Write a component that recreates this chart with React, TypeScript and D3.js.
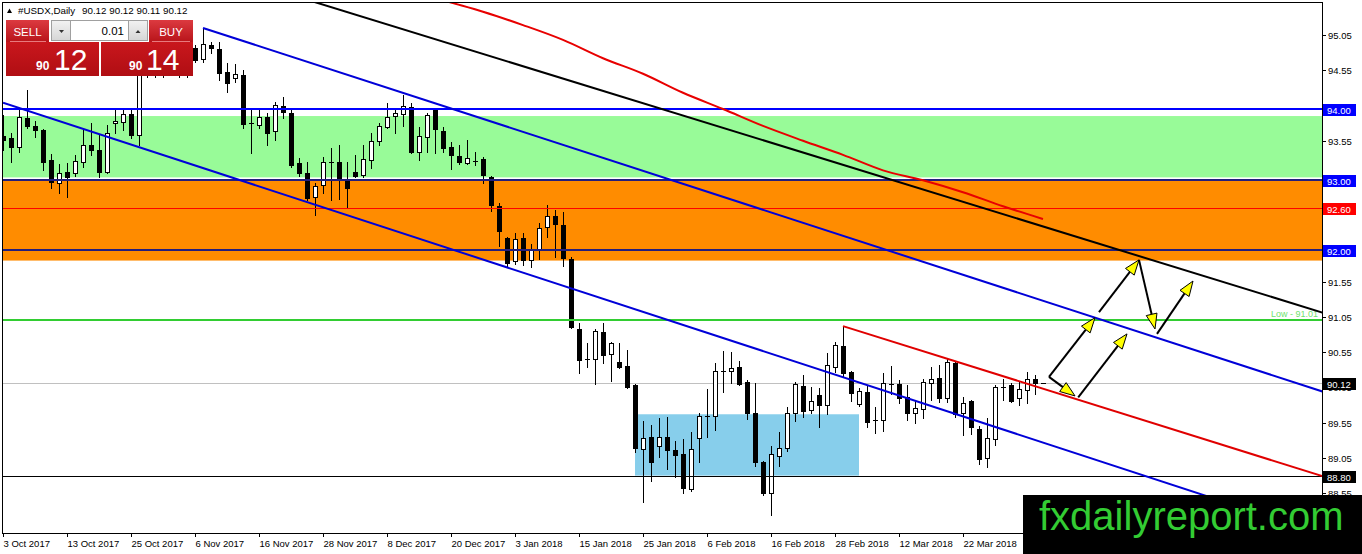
import { useEffect, useRef } from 'react';
import * as d3 from 'd3';

// time axis: one label every 8 daily bars, starting at bar 0
const dateLabels = [
  '3 Oct 2017', '13 Oct 2017', '25 Oct 2017', '6 Nov 2017', '16 Nov 2017', '28 Nov 2017',
  '8 Dec 2017', '20 Dec 2017', '3 Jan 2018', '15 Jan 2018', '25 Jan 2018', '6 Feb 2018',
  '16 Feb 2018', '28 Feb 2018', '12 Mar 2018', '22 Mar 2018',
];

// daily OHLC, bar 0 = 3 Oct 2017
const opens = [
  93.62, 93.59, 93.46, 93.87, 93.76, 93.7, 93.28, 92.95, 93.11, 93.09, 93.25, 93.49, 93.42, 93.11, 93.8, 93.82,
  93.93, 93.63, 94.55, 94.67, 94.58, 94.72, 94.62, 94.77, 94.87, 94.71, 94.91, 94.85, 94.52, 94.44, 94.48, 93.8,
  93.77, 93.89, 93.69, 94.04, 93.94, 93.23, 93.09, 92.75, 92.92, 93.25, 93.25, 93.01, 93.11, 93.06, 93.28, 93.55,
  93.74, 93.9, 93.93, 94.03, 93.39, 93.6, 94.0, 93.69, 93.46, 93.33, 93.23, 93.26, 93.29, 93.04, 92.62, 92.17,
  91.84, 92.17, 91.86, 92.01, 92.33, 92.48, 92.35, 91.87, 90.88, 90.45, 90.45, 90.84, 90.53, 90.41, 90.35, 90.08,
  89.18, 89.35, 89.22, 89.35, 89.16, 89.11, 88.61, 89.33, 89.65, 89.65, 90.28, 90.28, 90.34, 90.13, 89.69, 88.99,
  88.55, 89.08, 89.19, 89.69, 90.07, 89.73, 89.94, 89.8, 90.34, 90.64, 90.27, 89.82, 89.99, 89.59, 89.59, 90.1,
  90.1, 89.92, 89.69, 89.74, 90.11, 90.18, 89.9, 90.4, 89.69, 89.86, 89.46, 89.05, 89.32, 90.06, 90.08, 89.9,
  90.01, 90.17, 90.12,
];
const highs = [
  93.91, 93.66, 93.99, 94.27, 93.83, 93.72, 93.36, 93.22, 93.23, 93.35, 93.7, 93.8, 93.65, 93.77, 94.0, 94.0,
  93.99, 94.84, 94.77, 94.81, 94.84, 94.87, 94.91, 94.95, 94.91, 95.15, 94.95, 94.95, 94.65, 94.64, 94.55, 93.99,
  93.99, 93.94, 94.1, 94.17, 93.99, 93.31, 93.25, 92.95, 93.32, 93.45, 93.49, 93.25, 93.35, 93.49, 93.66, 93.8,
  94.09, 94.01, 94.2, 94.09, 93.74, 93.94, 94.01, 93.74, 93.53, 93.49, 93.56, 93.39, 93.32, 93.05, 92.67, 92.19,
  92.24, 92.24, 92.09, 92.38, 92.64, 92.57, 92.54, 91.9, 90.96, 90.68, 90.88, 90.96, 90.7, 90.68, 90.58, 90.1,
  89.57, 89.52, 89.62, 89.63, 89.29, 89.32, 89.42, 89.69, 90.03, 90.4, 90.57, 90.55, 90.43, 90.16, 90.11, 89.01,
  89.22, 89.42, 89.77, 90.13, 90.23, 90.06, 90.04, 90.54, 90.7, 90.92, 90.28, 90.04, 90.08, 89.77, 90.26, 90.35,
  90.16, 90.08, 89.87, 90.17, 90.34, 90.37, 90.45, 90.41, 89.92, 89.87, 89.5, 89.62, 90.08, 90.17, 90.11, 90.13,
  90.27, 90.23, 90.12,
];
const lows = [
  93.42, 93.25, 93.39, 93.73, 93.6, 93.13, 92.88, 92.81, 92.75, 93.05, 93.18, 93.35, 93.04, 93.09, 93.66, 93.7,
  93.59, 93.49, 94.46, 94.45, 94.46, 94.5, 94.45, 94.46, 94.67, 94.67, 94.79, 94.41, 94.24, 94.38, 93.73, 93.38,
  93.73, 93.49, 93.56, 93.87, 93.18, 93.05, 92.71, 92.5, 92.81, 92.71, 92.72, 92.6, 93.04, 93.04, 93.16, 93.49,
  93.73, 93.66, 93.76, 93.38, 93.28, 93.39, 93.38, 93.39, 93.15, 93.22, 93.22, 93.21, 92.95, 92.55, 92.06, 91.77,
  91.8, 91.79, 91.76, 91.87, 92.19, 91.9, 91.77, 90.89, 90.26, 90.34, 90.1, 90.4, 90.14, 90.33, 90.04, 89.13,
  88.43, 88.72, 89.06, 88.89, 88.78, 88.55, 88.58, 88.99, 89.35, 89.45, 89.99, 90.11, 90.08, 89.6, 88.94, 88.53,
  88.24, 88.94, 89.15, 89.57, 89.63, 89.69, 89.49, 89.67, 90.27, 90.2, 89.86, 89.79, 89.49, 89.4, 89.43, 89.96,
  89.83, 89.59, 89.55, 89.62, 89.87, 89.84, 89.84, 89.63, 89.38, 89.39, 88.96, 88.92, 89.23, 89.87, 89.84, 89.8,
  89.83, 89.96, 90.11,
];
const closes = [
  93.56, 93.46, 93.89, 93.76, 93.7, 93.25, 92.96, 93.09, 93.04, 93.26, 93.49, 93.42, 93.11, 93.66, 93.83, 93.93,
  93.63, 94.55, 94.67, 94.58, 94.72, 94.62, 94.77, 94.87, 94.69, 94.92, 94.87, 94.51, 94.37, 94.5, 93.79, 93.8,
  93.89, 93.66, 94.06, 93.96, 93.21, 93.09, 92.74, 92.91, 93.25, 93.25, 93.01, 92.88, 93.05, 93.29, 93.55, 93.76,
  93.89, 93.94, 94.04, 93.39, 93.62, 93.91, 93.72, 93.45, 93.35, 93.25, 93.31, 93.26, 93.06, 92.64, 92.27, 91.82,
  92.16, 91.86, 92.0, 92.31, 92.48, 92.37, 91.89, 90.91, 90.44, 90.44, 90.85, 90.51, 90.68, 90.34, 90.06, 89.19,
  89.33, 88.99, 89.35, 89.16, 89.09, 88.62, 89.18, 89.65, 89.65, 90.28, 90.28, 90.33, 90.1, 89.69, 88.99, 88.55,
  89.11, 89.19, 89.69, 90.1, 89.72, 89.86, 89.8, 90.37, 90.65, 90.26, 89.97, 90.0, 89.56, 89.59, 90.11, 90.1,
  89.9, 89.69, 89.76, 90.13, 90.17, 89.9, 90.41, 89.67, 89.83, 89.49, 89.04, 89.33, 90.06, 90.06, 89.86, 90.03,
  90.17, 90.11, 90.12,
];

// moving average (red curve)
const maBars = [52, 56, 60, 65, 70, 75, 80, 85, 90, 95, 100, 105, 110, 115, 120, 125, 130];
const maValues = [
  95.64, 95.51, 95.38, 95.19, 94.98, 94.72, 94.5, 94.23, 94.0, 93.76, 93.55, 93.35, 93.13, 92.99, 92.82, 92.62, 92.44,
];

// trend lines as [bar, price] pairs
const upperChannel = [[25, 95.15], [165, 89.99]];
const lowerChannel = [[0, 94.09], [165, 87.97]];
const blackTrend = [[30, 95.83], [165, 91.11]];
const redChannel = [[105, 90.92], [165, 88.79]];

// zones
const greenZone = [93.9, 93.03];
const orangeZone = [92.98, 91.85];
const blueBoxBars = [79, 107];
const blueBoxPrices = [89.67, 88.8];

// horizontal levels
const levelPrices = [94.0, 93.0, 92.6, 92.0, 90.12, 88.8];
const lowLevel = 91.01;

const priceTicks = [95.05, 94.55, 94.05, 93.55, 93.05, 92.55, 92.05, 91.55, 91.05, 90.55, 90.05, 89.55, 89.05, 88.55];

// projection arrows [bar, price]
const arrowStarts = [[130.75, 90.2], [130.75, 90.2], [137, 91.12], [142, 91.86], [144.25, 90.81], [134.4, 89.91]];
const arrowEnds = [[134, 89.93], [136.5, 91.04], [142, 91.86], [144, 90.88], [148.75, 91.56], [140.5, 90.81]];

const W = 1362;
const H = 554;

export default function App() {
  const svgRef = useRef<SVGSVGElement>(null);

  useEffect(() => {
    if (!svgRef.current) return;
    const font = "'Liberation Sans', Arial, sans-serif";
    const left = 2;
    const right = 1322;
    const top = 2;
    const bottom = 533;

    const svg = d3.select(svgRef.current);
    svg.selectAll('*').remove();
    svg.append('rect').attr('width', W).attr('height', H).attr('fill', '#fff');

    const x = d3.scaleLinear().domain([0, 130]).range([3, 1043]);
    const y = d3.scaleLinear().domain([88, 95.5]).range([532, 3.25]);
    const crisp = (v: number) => Math.round(v) + 0.5;

    const defs = svg.append('defs');
    defs
      .append('clipPath')
      .attr('id', 'plotClip')
      .append('rect')
      .attr('x', left + 1)
      .attr('y', top + 1)
      .attr('width', right - left - 1)
      .attr('height', bottom - top - 1);

    const grad = (id: string, c1: string, c2: string) => {
      const lg = defs.append('linearGradient').attr('id', id).attr('x1', 0).attr('y1', 0).attr('x2', 0).attr('y2', 1);
      lg.append('stop').attr('offset', '0%').attr('stop-color', c1);
      lg.append('stop').attr('offset', '100%').attr('stop-color', c2);
    };
    grad('btnRed', '#dc3a40', '#b8141a');
    grad('priceRed', '#c9171d', '#b00e13');
    grad('grayBtn', '#f2f2f2', '#d6d6d6');

    const g = svg.append('g').attr('clip-path', 'url(#plotClip)');

    // background zones
    g.append('rect')
      .attr('x', left)
      .attr('width', right - left)
      .attr('y', y(greenZone[0]))
      .attr('height', y(greenZone[1]) - y(greenZone[0]))
      .attr('fill', '#98fb98');
    g.append('rect')
      .attr('x', left)
      .attr('width', right - left)
      .attr('y', y(orangeZone[0]))
      .attr('height', y(orangeZone[1]) - y(orangeZone[0]))
      .attr('fill', '#ff8c00');
    g.append('rect')
      .attr('x', x(blueBoxBars[0]))
      .attr('width', x(blueBoxBars[1]) - x(blueBoxBars[0]))
      .attr('y', y(blueBoxPrices[0]))
      .attr('height', y(blueBoxPrices[1]) - y(blueBoxPrices[0]))
      .attr('fill', '#87ceeb');

    const hline = (p: number, color: string, w: number) => {
      const yy = w % 2 === 1 ? crisp(y(p)) : Math.round(y(p));
      g.append('line')
        .attr('x1', left)
        .attr('x2', right)
        .attr('y1', yy)
        .attr('y2', yy)
        .attr('stroke', color)
        .attr('stroke-width', w);
    };
    // bid line
    hline(90.12, '#c0c0c0', 1);

    // candles
    opens.forEach((o, i) => {
      const c = closes[i];
      const cx = Math.round(x(i));
      g.append('line')
        .attr('x1', cx + 0.5)
        .attr('x2', cx + 0.5)
        .attr('y1', Math.round(y(highs[i])))
        .attr('y2', Math.round(y(lows[i])) + 1)
        .attr('stroke', '#000')
        .attr('stroke-width', 1);
      const yTop = Math.round(y(Math.max(o, c)));
      const yBot = Math.round(y(Math.min(o, c)));
      if (yBot - yTop < 2) {
        g.append('line')
          .attr('x1', cx - 2)
          .attr('x2', cx + 3)
          .attr('y1', yTop + 0.5)
          .attr('y2', yTop + 0.5)
          .attr('stroke', '#000');
      } else if (c > o) {
        g.append('rect')
          .attr('x', cx - 1.5)
          .attr('y', yTop + 0.5)
          .attr('width', 4)
          .attr('height', yBot - yTop)
          .attr('fill', '#fff')
          .attr('stroke', '#000')
          .attr('stroke-width', 1);
      } else {
        g.append('rect')
          .attr('x', cx - 2)
          .attr('y', yTop)
          .attr('width', 5)
          .attr('height', yBot - yTop + 1)
          .attr('fill', '#000');
      }
    });

    // horizontal levels
    hline(levelPrices[0], '#0000ff', 2);
    hline(levelPrices[1], '#231e7c', 2);
    hline(levelPrices[3], '#231e7c', 2);
    hline(levelPrices[2], '#ff0000', 1);
    hline(levelPrices[5], '#000000', 1);
    hline(lowLevel, '#32cd32', 2);

    g.append('text')
      .attr('x', right - 4)
      .attr('y', y(lowLevel) - 3)
      .attr('text-anchor', 'end')
      .attr('font-family', font)
      .attr('font-size', 9)
      .attr('fill', '#6fe36f')
      .text(`Low - ${lowLevel.toFixed(2)}`);

    // trend lines
    const seg = d3
      .line<number[]>()
      .x((d) => x(d[0]))
      .y((d) => y(d[1]));
    const trend = (pts: number[][], color: string) =>
      g.append('path').attr('d', seg(pts)).attr('fill', 'none').attr('stroke', color).attr('stroke-width', 2);
    trend(upperChannel, '#0000d8');
    trend(lowerChannel, '#0000d8');
    trend(blackTrend, '#000');
    trend(redChannel, '#e00000');

    const maLine = d3
      .line<number>()
      .x((d) => x(d))
      .y((_, i) => y(maValues[i]))
      .curve(d3.curveMonotoneX);
    g.append('path').attr('d', maLine(maBars)).attr('fill', 'none').attr('stroke', '#e80000').attr('stroke-width', 2);

    // arrows
    arrowStarts.forEach((s, i) => {
      const e = arrowEnds[i];
      const x1 = x(s[0]);
      const y1 = y(s[1]);
      const x2 = x(e[0]);
      const y2 = y(e[1]);
      const ang = Math.atan2(y2 - y1, x2 - x1);
      const len = 15;
      const hw = 5.5;
      const bx = x2 - len * Math.cos(ang);
      const by = y2 - len * Math.sin(ang);
      g.append('line')
        .attr('x1', x1)
        .attr('y1', y1)
        .attr('x2', bx)
        .attr('y2', by)
        .attr('stroke', '#000')
        .attr('stroke-width', 2);
      const px = -Math.sin(ang) * hw;
      const py = Math.cos(ang) * hw;
      g.append('path')
        .attr('d', `M${x2},${y2}L${bx + px},${by + py}L${bx - px},${by - py}Z`)
        .attr('fill', '#ffff00')
        .attr('stroke', '#000')
        .attr('stroke-width', 1);
    });

    // frame
    svg.append('line').attr('x1', left).attr('x2', right).attr('y1', top + 0.5).attr('y2', top + 0.5).attr('stroke', '#000');
    svg.append('line').attr('x1', left + 0.5).attr('x2', left + 0.5).attr('y1', top).attr('y2', bottom).attr('stroke', '#000');
    svg.append('line').attr('x1', right + 0.5).attr('x2', right + 0.5).attr('y1', top).attr('y2', bottom + 1).attr('stroke', '#000');
    svg.append('line').attr('x1', left).attr('x2', right + 1).attr('y1', bottom + 0.5).attr('y2', bottom + 0.5).attr('stroke', '#000');

    // price axis; labels sitting just above a level box are hidden by it
    priceTicks.forEach((p) => {
      const yy = crisp(y(p));
      svg.append('line').attr('x1', right).attr('x2', right + 4).attr('y1', yy).attr('y2', yy).attr('stroke', '#000');
      const covered = levelPrices.some((l) => p - l >= 0 && p - l < 0.08);
      if (covered) return;
      svg
        .append('text')
        .attr('x', right + 6)
        .attr('y', yy + 3.5)
        .attr('font-family', font)
        .attr('font-size', 9.5)
        .attr('fill', '#000')
        .text(p.toFixed(2));
    });
    const levelFills = ['#0000ff', '#0000ff', '#ff0000', '#0000ff', '#000000', '#000000'];
    levelPrices.forEach((p, i) => {
      const yy = Math.round(y(p));
      svg
        .append('rect')
        .attr('x', right + 1)
        .attr('y', yy - 5)
        .attr('width', 33)
        .attr('height', 12)
        .attr('fill', levelFills[i]);
      svg
        .append('text')
        .attr('x', right + 5)
        .attr('y', yy + 4.5)
        .attr('font-family', font)
        .attr('font-size', 9.5)
        .attr('fill', '#fff')
        .text(p.toFixed(2));
    });

    // time axis
    dateLabels.forEach((d, i) => {
      const xx = Math.round(x(i * 8)) + 0.5;
      svg.append('line').attr('x1', xx).attr('x2', xx).attr('y1', bottom).attr('y2', bottom + 4).attr('stroke', '#000');
      svg
        .append('text')
        .attr('x', xx)
        .attr('y', bottom + 14)
        .attr('font-family', font)
        .attr('font-size', 9.5)
        .attr('fill', '#000')
        .text(d);
    });

    // header
    svg.append('path').attr('d', 'M7,13L12,13L9.5,8.5Z').attr('fill', '#000');
    svg
      .append('text')
      .attr('x', 18)
      .attr('y', 14)
      .attr('font-family', font)
      .attr('font-size', 9.8)
      .attr('fill', '#000')
      .text('#USDX,Daily');
    svg
      .append('text')
      .attr('x', 82)
      .attr('y', 14)
      .attr('font-family', font)
      .attr('font-size', 9.8)
      .attr('fill', '#000')
      .text(`${opens[130].toFixed(2)} ${highs[130].toFixed(2)} ${lows[130].toFixed(2)} ${closes[130].toFixed(2)}`);

    // one-click trading panel
    const panel = svg.append('g');
    panel.append('rect').attr('x', 6).attr('y', 20).attr('width', 43).attr('height', 22).attr('fill', 'url(#btnRed)');
    panel.append('rect').attr('x', 149).attr('y', 20).attr('width', 44).attr('height', 22).attr('fill', 'url(#btnRed)');
    panel.append('rect').attr('x', 6).attr('y', 42).attr('width', 93).attr('height', 34).attr('fill', 'url(#priceRed)');
    panel.append('rect').attr('x', 101).attr('y', 42).attr('width', 92).attr('height', 34).attr('fill', 'url(#priceRed)');
    panel.append('line').attr('x1', 10).attr('x2', 46).attr('y1', 41.5).attr('y2', 41.5).attr('stroke', '#e87a7e');
    panel.append('line').attr('x1', 152).attr('x2', 190).attr('y1', 41.5).attr('y2', 41.5).attr('stroke', '#e87a7e');
    panel.append('rect').attr('x', 51.5).attr('y', 20.5).attr('width', 19).attr('height', 20).attr('fill', 'url(#grayBtn)').attr('stroke', '#a0a0a0');
    panel.append('rect').attr('x', 70.5).attr('y', 20.5).attr('width', 58).attr('height', 20).attr('fill', '#fff').attr('stroke', '#a0a0a0');
    panel.append('rect').attr('x', 128.5).attr('y', 20.5).attr('width', 19).attr('height', 20).attr('fill', 'url(#grayBtn)').attr('stroke', '#a0a0a0');
    panel.append('path').attr('d', 'M59,30L64,30L61.5,33Z').attr('fill', '#333');
    panel.append('path').attr('d', 'M135.5,33L140.5,33L138,30Z').attr('fill', '#333');
    panel
      .append('text')
      .attr('x', 124)
      .attr('y', 35)
      .attr('text-anchor', 'end')
      .attr('font-family', font)
      .attr('font-size', 11.5)
      .attr('fill', '#000')
      .text('0.01');
    panel
      .append('text')
      .attr('x', 27.5)
      .attr('y', 35.5)
      .attr('text-anchor', 'middle')
      .attr('font-family', font)
      .attr('font-size', 11.5)
      .attr('fill', '#fff')
      .text('SELL');
    panel
      .append('text')
      .attr('x', 171)
      .attr('y', 35.5)
      .attr('text-anchor', 'middle')
      .attr('font-family', font)
      .attr('font-size', 11.5)
      .attr('fill', '#fff')
      .text('BUY');
    const bigPrice = (xSmall: number, xBig: number, small: string, big: string) => {
      panel
        .append('text')
        .attr('x', xSmall)
        .attr('y', 70)
        .attr('font-family', font)
        .attr('font-size', 12)
        .attr('font-weight', 'bold')
        .attr('fill', '#fff')
        .text(small);
      panel
        .append('text')
        .attr('x', xBig)
        .attr('y', 70)
        .attr('font-family', font)
        .attr('font-size', 30)
        .attr('fill', '#fff')
        .text(big);
    };
    bigPrice(36, 54, '90', '12');
    bigPrice(129, 146, '90', '14');

    // watermark
    svg.append('rect').attr('x', 1023).attr('y', 495).attr('width', W - 1023).attr('height', H - 495).attr('fill', '#000');
    svg
      .append('text')
      .attr('x', 1039)
      .attr('y', 530)
      .attr('font-family', font)
      .attr('font-size', 40)
      .attr('fill', '#33cc33')
      .text('fxdailyreport.com');
  }, []);

  return (
    <svg
      ref={svgRef}
      width={W}
      height={H}
      style={{ position: 'absolute', left: 0, top: 0, display: 'block' }}
    />
  );
}
